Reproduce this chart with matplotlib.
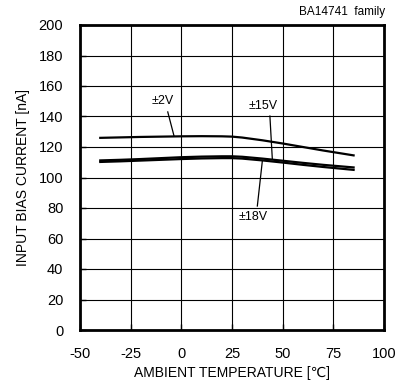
import numpy as np
import matplotlib.pyplot as plt

plt.rcParams['font.family'] = ['Liberation Sans', 'DejaVu Sans']
plt.rcParams['axes.unicode_minus'] = False

# temperature points [degC]
temp = [-40, -30, -20, -10, 0, 10, 20, 25, 30, 40, 50, 60, 70, 85]
# input bias current [nA]
ib_2v = [126, 126.3, 126.6, 126.8, 127, 127.1, 127, 126.8, 126.2, 124.4, 122.3, 120, 117.7, 114.5]
ib_15v = [111.2, 111.6, 112.1, 112.7, 113.3, 113.7, 113.9, 113.9, 113.6, 112.4, 111, 109.6, 108.3, 106.6]
ib_18v = [110.2, 110.6, 111.1, 111.6, 112.1, 112.5, 112.7, 112.7, 112.4, 111.2, 109.8, 108.3, 106.9, 105]

xticks = [-50, -25, 0, 25, 50, 75, 100]
yticks = [0, 20, 40, 60, 80, 100, 120, 140, 160, 180, 200]

fig = plt.figure(figsize=(4.06, 3.81), dpi=100)
ax = fig.add_axes([80 / 406, 51 / 381, 304 / 406, 305 / 381])

for y in [ib_2v, ib_15v, ib_18v]:
    ax.plot(temp, y, color='black', linewidth=1.6)

ax.set_xlim(-50, 100)
ax.set_ylim(0, 200)
ax.set_xticks(xticks)
ax.set_yticks(yticks)
ax.grid(True, color='black', linewidth=0.8)
ax.tick_params(direction='in', length=4, width=1, labelsize=10.5,
               top=False, right=False)
ax.tick_params(axis='y', pad=12)
ax.tick_params(axis='x', pad=12)
for s in ax.spines.values():
    s.set_linewidth(2)

ax.set_xlabel('AMBIENT TEMPERATURE [\u2103]', fontsize=10, labelpad=4)
ax.set_ylabel('INPUT BIAS CURRENT [nA]', fontsize=10, labelpad=6)

# curve labels with leaders
ax.text(-9, 150, '\u00b12V', fontsize=9, ha='center', va='center')
ax.plot([-6.7, -3.6], [143, 127.2], color='black', linewidth=0.9)
ax.text(40.5, 147, '\u00b115V', fontsize=9, ha='center', va='center')
ax.plot([43.7, 44.9], [140.3, 112], color='black', linewidth=0.9)
ax.text(35.5, 74, '\u00b118V', fontsize=9, ha='center', va='center')
ax.plot([37.5, 40], [81.3, 111.2], color='black', linewidth=0.9)

fig.text(385 / 406, 1 - 12 / 381, 'BA14741  family', fontsize=8.5,
         ha='right', va='center')

fig.savefig('out.png', dpi=100)
